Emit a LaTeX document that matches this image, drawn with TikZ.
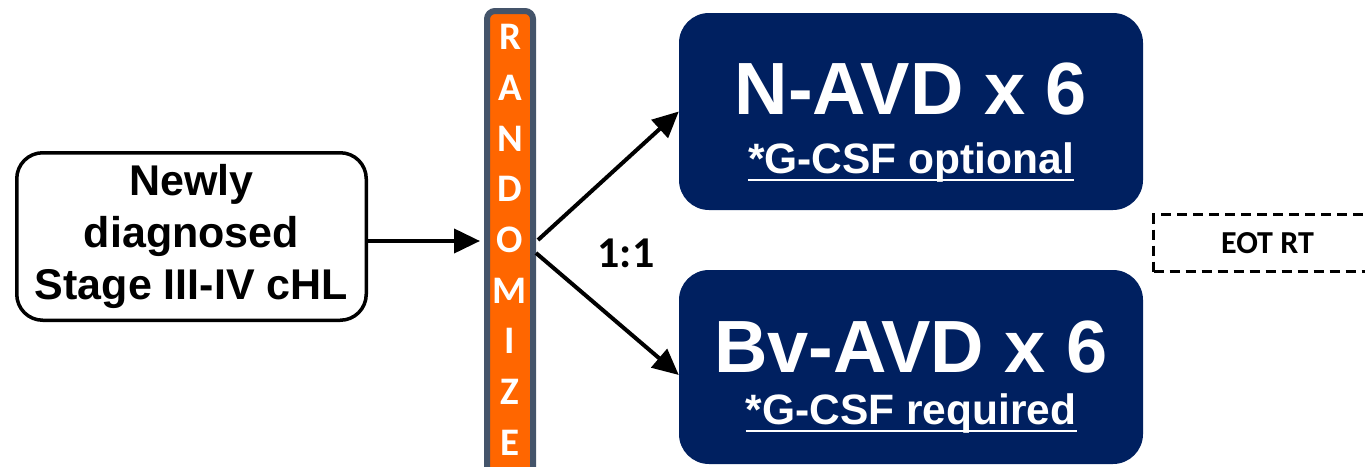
\documentclass[tikz,border=0pt]{standalone}
\usepackage{fontspec}
\setmainfont{Liberation Sans}
\newfontfamily\calibrifont{Carlito}
\usetikzlibrary{arrows.meta,calc}
\definecolor{navy}{HTML}{002060}
\definecolor{randorange}{HTML}{FF6600}
\definecolor{slate}{HTML}{44546A}

\begin{document}
\begin{tikzpicture}[x=1pt,y=-1pt,>={Triangle[length=26pt,width=24pt]},
  arm/.style={fill=navy,rounded corners=30pt,minimum width=464pt,inner sep=0pt},
  big/.style={white,font=\bfseries\fontsize{74}{74}\selectfont,inner sep=0pt,anchor=base},
  gcsf/.style={white,font=\bfseries\fontsize{42.5}{42.5}\selectfont,inner sep=0pt,anchor=base},
  letter/.style={white,font=\calibrifont\bfseries\fontsize{39}{39}\selectfont,inner sep=0pt},
  conn/.style={->,line width=4pt}]
  \useasboundingbox (0,0) rectangle (1365,466);
  % patients
  \node[draw,line width=3.5pt,rounded corners=26pt,minimum width=349.5pt,minimum height=167.5pt,
    align=center,font=\bfseries\fontsize{43}{52}\selectfont] (diag) at (191.5,236.5)
    {Newly\\diagnosed\\Stage III-IV cHL};
  % randomization bar
  \node[draw=slate,fill=randorange,line width=6pt,rounded corners=8pt,minimum width=46pt,
    minimum height=472pt,inner sep=0pt] (rand) at (510,247) {};
  \foreach \l [count=\i from 0] in {R,A,N,D,O,M,I,Z,E}
    \node[letter] (let\i) at (510,{37+50.7*\i}) {\l};
  % arms
  \node[arm,minimum height=197pt] (narm) at (911,111.5) {};
  \node[arm,minimum height=194pt] (barm) at (911,367) {};
  \node[big] (ntitle) at (911,114) {N-AVD x 6};
  \node[gcsf] (nnote) at (911,173) {*G-CSF optional};
  \node[big] (btitle) at (911,372) {Bv-AVD x 6};
  \node[gcsf] (bnote) at (911,424) {*G-CSF required};
  \draw[white,line width=2.5pt] ($(nnote.base west)+(0,7)$) -- ($(nnote.base east)+(0,7)$);
  \draw[white,line width=2.5pt] ($(bnote.base west)+(0,7)$) -- ($(bnote.base east)+(0,7)$);
  \node[font=\calibrifont\bfseries\fontsize{44}{44}\selectfont,anchor=base] (ratio) at (626,267) {1:1};
  \node[draw,line width=3pt,dash pattern=on 10pt off 6pt,minimum width=228pt,minimum height=57pt,
    font=\calibrifont\bfseries\fontsize{32}{32}\selectfont] (eot) at (1267.5,243) {EOT RT};
  % connectors
  \draw[conn] ($(diag.east)+(0,4.5)$) -- ($(rand.west)+(-4,-6)$);
  \draw[conn] ($(rand.east)+(2,-7)$) -- (narm.west);
  \draw[conn] ($(rand.east)+(0,6)$) -- ($(barm.west)+(0,8)$);
\end{tikzpicture}
\end{document}
